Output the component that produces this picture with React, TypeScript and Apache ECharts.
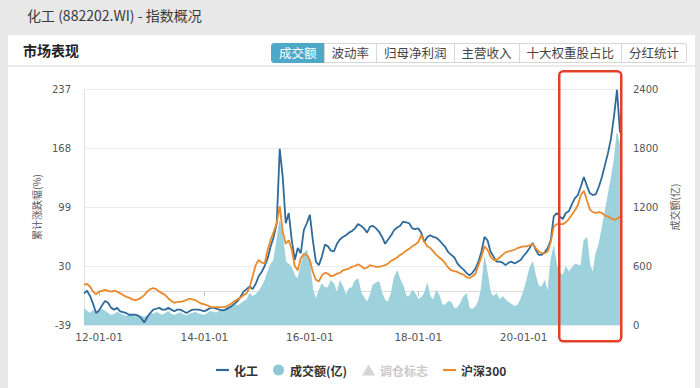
import React, { useEffect, useRef } from "react";
import * as echarts from "echarts";

// ---- data ----
const chemIndex = [
  -2, 1, -5, -14, -25, -22, -16, -11, -13, -19,
  -21, -19, -23, -24, -25, -27, -27, -27, -28, -31,
  -36, -30, -25, -21, -20, -19, -21, -21, -19, -21,
  -23, -21, -21, -23, -25, -23, -21, -21, -21, -22,
  -23, -21, -19, -19, -20, -21, -22, -21, -19, -17,
  -14, -11, -6, 0, 3, 6, 3, 9, 18, 23,
  30, 39, 53, 64, 80, 167, 134, 80, 92, 60,
  37, 51, 45, 72, 80, 90, 60, 35, 31, 41,
  55, 53, 48, 47, 56, 61, 64, 66, 69, 71,
  74, 79, 77, 74, 69, 76, 77, 74, 70, 64,
  56, 61, 66, 72, 75, 77, 82, 81, 80, 74,
  73, 74, 69, 58, 64, 66, 64, 63, 60, 56,
  52, 46, 43, 40, 33, 29, 26, 22, 19, 22,
  27, 35, 47, 64, 60, 47, 41, 35, 35, 34,
  31, 34, 35, 33, 35, 37, 42, 46, 51, 57,
  49, 43, 43, 46, 51, 60, 88, 92, 88, 85,
  92, 94, 102, 109, 113, 123, 134, 124, 115, 113,
  114, 123, 134, 148, 162, 179, 205, 236, 186,
];

const csi300 = [
  8, 9, 6, 0, -3, 0, 1, 2, 1, 0,
  1, 0, -2, -4, -6, -7, -9, -10, -9, -7,
  -4, 0, 3, 4, 3, 0, -2, -4, -8, -11,
  -13, -12, -12, -11, -10, -8, -9, -10, -12, -14,
  -15, -16, -18, -18, -18, -18, -18, -18, -16, -14,
  -11, -9, -7, -4, -2, 5, 18, 31, 37, 34,
  33, 49, 61, 70, 80, 100, 70, 56, 60, 49,
  30, 25, 39, 44, 43, 37, 23, 14, 12, 19,
  22, 21, 18, 19, 21, 22, 25, 26, 27, 29,
  30, 32, 30, 27, 28, 31, 30, 29, 29, 30,
  31, 33, 36, 38, 40, 43, 45, 48, 50, 53,
  55, 58, 66, 58, 53, 51, 47, 43, 40, 37,
  33, 28, 25, 24, 23, 21, 20, 17, 16, 18,
  21, 31, 41, 53, 49, 41, 37, 37, 40, 43,
  46, 47, 48, 49, 51, 52, 53, 53, 54, 56,
  51, 47, 45, 45, 47, 58, 76, 79, 79, 79,
  81, 85, 90, 95, 101, 113, 118, 107, 96, 93,
  92, 93, 92, 89, 88, 86, 84, 85, 88,
];

const turnover = [
  170, 140, 120, 150, 110, 130, 160, 140, 120, 100,
  110, 130, 115, 100, 90, 105, 95, 85, 100, 90,
  80, 95, 120, 110, 130, 115, 100, 120, 135, 110,
  100, 115, 125, 105, 95, 110, 120, 130, 115, 105,
  100, 120, 140, 130, 125, 145, 150, 160, 170, 190,
  210, 195, 215, 240, 255, 320, 290, 310, 340, 390,
  450, 540, 620, 660, 860, 1060, 900, 640, 620, 580,
  500, 470, 600, 730, 760, 620, 360, 260, 350, 420,
  380, 380, 450, 420, 320, 450, 390, 300, 370, 380,
  450, 470, 330, 280, 230, 300, 410, 430, 440, 320,
  250, 235, 320, 480, 550, 460, 400, 290, 290, 350,
  320, 260, 280, 320, 420, 290, 255, 350, 300, 200,
  205, 240, 230, 165, 175, 220, 285, 320, 170, 160,
  185, 240, 380, 690, 520, 330, 290, 320, 255, 290,
  260, 230, 210, 190, 200, 260, 340, 450, 580, 640,
  500, 390, 390, 450, 330, 650, 800, 600, 540, 500,
  590, 540, 580, 620, 610, 600, 860, 890, 610, 530,
  730, 820, 980, 1150, 1320, 1480, 1670, 1950, 1820,
];

const xTickLabels = ["12-01-01", "14-01-01", "16-01-01", "18-01-01", "20-01-01"];
const xTickIndex = [5, 40, 75, 111, 146];
const leftTicks = [-39, 30, 99, 168, 237];
const categories = chemIndex.map((_, i) => String(i));

const tabs = ["成交额", "波动率", "归母净利润", "主营收入", "十大权重股占比", "分红统计"];

const NUM_FONT = '"DejaVu Sans", "Noto Sans CJK SC", sans-serif';
const CJK_FONT = '"Noto Sans CJK SC", "Noto Sans", sans-serif';
const DASH_ICON = "path://M0,0 L24,0 L24,4 L0,4 Z";

export default function App() {
  const ref = useRef<HTMLDivElement>(null);

  useEffect(() => {
    if (!ref.current) return;
    const chart = echarts.init(ref.current, undefined, { renderer: "svg" });
    const showTick = (index: number) => xTickIndex.indexOf(index) >= 0;
    const option: any = {
      animation: false,
      grid: { left: 84, right: 80, top: 89, bottom: 63, containLabel: false },
      legend: {
        left: 211,
        top: 359,
        itemWidth: 13,
        itemHeight: 11,
        itemGap: 15,
        inactiveColor: "#c9c9c9",
        textStyle: { fontSize: 12, color: "#333", fontWeight: "bold", fontFamily: CJK_FONT },
        selected: { 调仓标志: false },
        data: [
          { name: "化工", icon: DASH_ICON },
          { name: "成交额(亿)", icon: "circle" },
          { name: "调仓标志", icon: "triangle" },
          { name: "沪深300", icon: DASH_ICON },
        ],
      },
      xAxis: {
        type: "category",
        boundaryGap: false,
        data: categories,
        axisLine: { show: true, lineStyle: { color: "#dddddd" } },
        axisTick: { show: true, interval: (i: number) => showTick(i), length: 4, lineStyle: { color: "#bbbbbb" } },
        axisLabel: {
          interval: (i: number) => showTick(i),
          formatter: (_v: string, i: number) => xTickLabels[xTickIndex.indexOf(i)] ?? "",
          fontFamily: NUM_FONT,
          fontSize: 10.5,
          color: "#555",
          margin: 7,
        },
        splitLine: { show: false },
      },
      yAxis: [
        {
          type: "value",
          min: -39,
          max: 237,
          name: "累计涨跌幅(%)",
          nameLocation: "middle",
          nameGap: 39,
          nameTextStyle: { fontSize: 10, color: "#555", fontFamily: CJK_FONT },
          axisLine: { show: true, lineStyle: { color: "#e3e3e3" } },
          axisTick: { show: false },
          axisLabel: { customValues: leftTicks, fontSize: 10, color: "#555", fontFamily: NUM_FONT, margin: 13 },
          splitLine: { show: false },
        },
        {
          type: "value",
          min: 0,
          max: 2400,
          interval: 600,
          position: "right",
          name: "成交额(亿)",
          nameLocation: "middle",
          nameGap: 47,
          nameTextStyle: { fontSize: 10, color: "#555", fontFamily: CJK_FONT },
          axisLine: { show: false },
          axisTick: { show: false },
          axisLabel: {
            formatter: (v: number) => String(v),
            fontSize: 10,
            color: "#555",
            fontFamily: NUM_FONT,
            margin: 13,
          },
          splitLine: { show: true, lineStyle: { color: "#ebebeb" } },
        },
      ],
      series: [
        {
          name: "成交额(亿)",
          type: "line",
          yAxisIndex: 1,
          data: turnover,
          symbol: "none",
          showSymbol: false,
          z: 1,
          lineStyle: { width: 0.6, color: "#8cc9d5" },
          itemStyle: { color: "#8cc9d5" },
          areaStyle: { color: "#9dd2dc", opacity: 1 },
        },
        {
          name: "化工",
          type: "line",
          data: chemIndex,
          symbol: "none",
          showSymbol: false,
          z: 3,
          lineStyle: { width: 1.8, color: "#2f6b9a" },
          itemStyle: { color: "#2f6b9a" },
        },
        {
          name: "调仓标志",
          type: "scatter",
          data: [],
          symbol: "triangle",
          itemStyle: { color: "#2f6b9a" },
        },
        {
          name: "沪深300",
          type: "line",
          data: csi300,
          symbol: "none",
          showSymbol: false,
          z: 4,
          lineStyle: { width: 1.8, color: "#e8892c" },
          itemStyle: { color: "#e8892c" },
        },
      ],
      graphic: [
        {
          type: "rect",
          z: 100,
          shape: { x: 559.25, y: 71.25, width: 62, height: 270, r: 4 },
          style: { fill: "none", stroke: "#e3402b", lineWidth: 2.5 },
        },
      ],
    };
    chart.setOption(option);
    return () => chart.dispose();
  }, []);

  return (
    <div
      style={{
        position: "fixed",
        left: 0,
        top: 0,
        width: 700,
        height: 388,
        background: "#e8e8e8",
        overflow: "hidden",
        fontFamily: CJK_FONT,
      }}
    >
      <div style={{ position: "absolute", left: 27, top: 5, fontSize: 14, color: "#3a3a3a", whiteSpace: "nowrap" }}>
        化工 (882202.WI) - 指数概况
      </div>
      <div style={{ position: "absolute", left: 8, top: 35, width: 687, height: 360, background: "#fff" }}>
        <div style={{ position: "absolute", left: 15, top: 5, fontSize: 14, fontWeight: "bold", color: "#222" }}>市场表现</div>
        <div style={{ position: "absolute", left: 263, top: 8, display: "flex", height: 20 }}>
          {tabs.map((t, i) => (
            <div
              key={t}
              style={{
                height: 18,
                lineHeight: "18px",
                padding: "0 7px",
                fontSize: 12.5,
                border: "1px solid " + (i === 0 ? "#4ea9c9" : "#d6d6d6"),
                marginLeft: i === 0 ? 0 : -1,
                background: i === 0 ? "#4ea9c9" : "#fff",
                color: i === 0 ? "#fff" : "#444",
                borderRadius: i === 0 ? "3px 0 0 3px" : i === tabs.length - 1 ? "0 3px 3px 0" : 0,
                whiteSpace: "nowrap",
              }}
            >
              {t}
            </div>
          ))}
        </div>
        <div style={{ position: "absolute", left: 0, top: 30, width: 687, height: 2, background: "#ebebeb" }} />
      </div>
      <div ref={ref} style={{ position: "absolute", left: 0, top: 0, width: 700, height: 388 }} />
    </div>
  );
}
